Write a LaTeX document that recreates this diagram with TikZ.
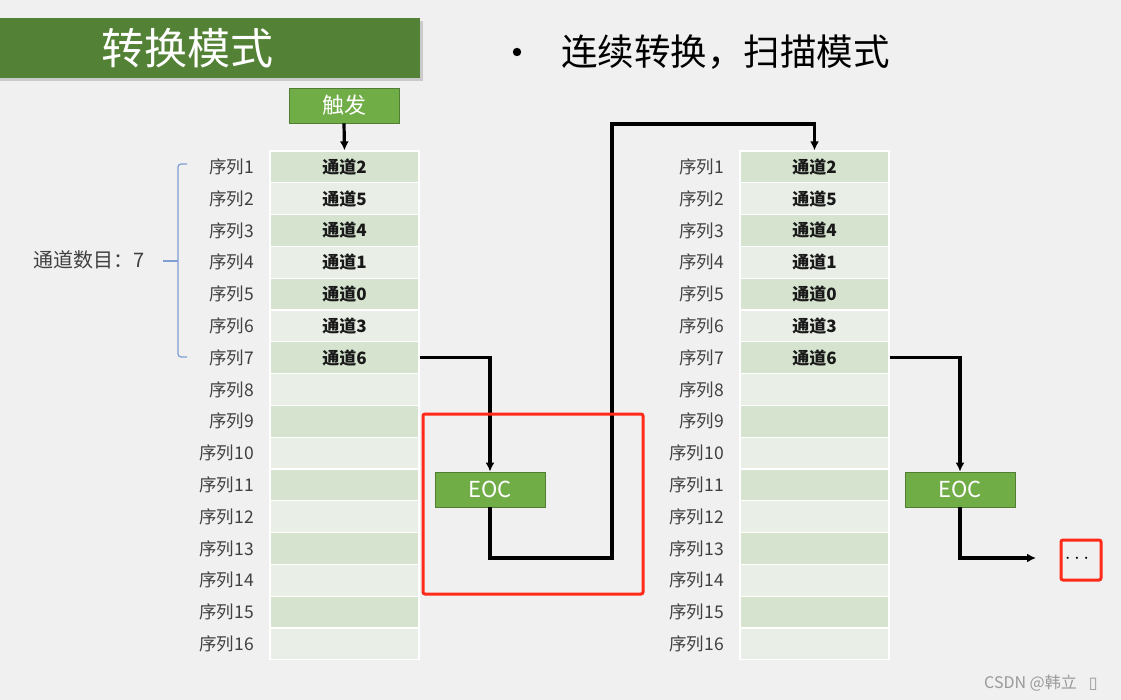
\documentclass[tikz,border=0pt]{standalone}
\usepackage{fontspec}
\setmainfont{Noto Sans CJK SC}
\newfontfamily\symfont{DejaVu Sans}
\usetikzlibrary{arrows.meta,shadows}

\definecolor{pagebg}{HTML}{F0F0F0}
\definecolor{titlegreen}{HTML}{538135}
\definecolor{boxgreen}{HTML}{70AD47}
\definecolor{boxedge}{HTML}{507E32}
\definecolor{celldark}{HTML}{D5E3CF}
\definecolor{celllight}{HTML}{E9EFE6}
\definecolor{bracecol}{HTML}{7F9ED3}
\definecolor{markred}{HTML}{FF2A1A}

\begin{document}
\begin{tikzpicture}[x=1pt,y=-1pt,
    cell/.style={draw=white,line width=1.2pt,minimum width=149pt,minimum height=31.8pt,
      inner sep=0pt,font=\fontsize{17}{17}\selectfont\bfseries,text=black!90},
    seqlabel/.style={anchor=east,inner sep=0pt,font=\fontsize{17.5}{17.5}\selectfont,text=black!75},
    greenbox/.style={draw=boxedge,fill=boxgreen,line width=0.8pt,minimum width=110pt,
      minimum height=35pt,inner sep=0pt,text=white,font=\fontsize{22}{22}\selectfont},
    conn/.style={line width=3.2pt,black,line join=miter,-{Latex[length=9pt,width=9pt]}},
    redbox/.style={draw=markred,line width=3pt,rounded corners=2pt}]

   % page
   \path[use as bounding box,fill=pagebg] (0,0) rectangle (1121,700);

   % heading
   \node[fill=titlegreen,minimum width=424pt,minimum height=60pt,inner sep=0pt,
     drop shadow={shadow xshift=3pt,shadow yshift=-3pt,fill=black!35}] (titlebar) at (208,48) {};
   \node[text=white,font=\fontsize{43}{43}\selectfont] (title) at (187,48) {转换模式};
   \fill (517,52) circle (4.2);
   \node[anchor=west,inner sep=0pt,font=\fontsize{36.5}{36.5}\selectfont] (mode) at (561,52) {连续转换，扫描模式};

   % two sequence tables
   \foreach \t/\cx/\lx in {L/344.5/254,R/814.5/724}{
     \foreach \i in {1,...,16}{
       \ifodd\i \def\shade{celldark}\else\def\shade{celllight}\fi
       \node[cell,fill=\shade] (\t\i) at (\cx,{151+31.8*(\i-0.5)}) {};
       \node[seqlabel] (seq\t\i) at (\lx,{151+31.8*(\i-0.5)}) {序列\i};
     }
     \foreach \i/\c in {1/2,2/5,3/4,4/1,5/0,6/3,7/6}
       \node[cell,draw=none,fill=none] (ch\t\i) at (\t\i) {通道\c};
   }

   % channel count brace
   \node[font=\fontsize{20}{20}\selectfont,text=black!75] (count) at (89,260) {通道数目：7};
   \draw[bracecol,line width=1.2pt,rounded corners=3pt] (187,164) -- (178,164) -- (178,357) -- (187,357);
   \draw[bracecol,line width=1.2pt] (163,261) -- (178,261);

   % trigger and EOC boxes
   \node[greenbox] (trig) at (344,105.5) {触发};
   \node[greenbox] (eoc1) at (490,489.5) {EOC};
   \node[greenbox] (eoc2) at (960,489.5) {EOC};
   \coordinate (ends) at (1036,558);

   \draw[conn] (trig.south) -- (L1.north);
   \draw[conn] (L7.east) -| (eoc1.north);
   \draw[conn] (eoc1.south) -- (490,558) -- (612,558) -- (612,124) -| (R1.north);
   \draw[conn] (R7.east) -| (eoc2.north);
   \draw[conn] (eoc2.south) |- (ends);

   % marks
   \draw[redbox] (423,414) rectangle (643,594);
   \draw[redbox] (1061,540) rectangle (1101,580);
   \node[font=\fontsize{22}{22}\selectfont] (more) at (1077,559) {$\cdots$};

   \node[anchor=west,inner sep=0pt,text=black!40,font=\fontsize{16}{16}\selectfont] (mark) at (984,683) {CSDN @韩立\hspace{12pt}{\symfont ▯}};
\end{tikzpicture}
\end{document}
